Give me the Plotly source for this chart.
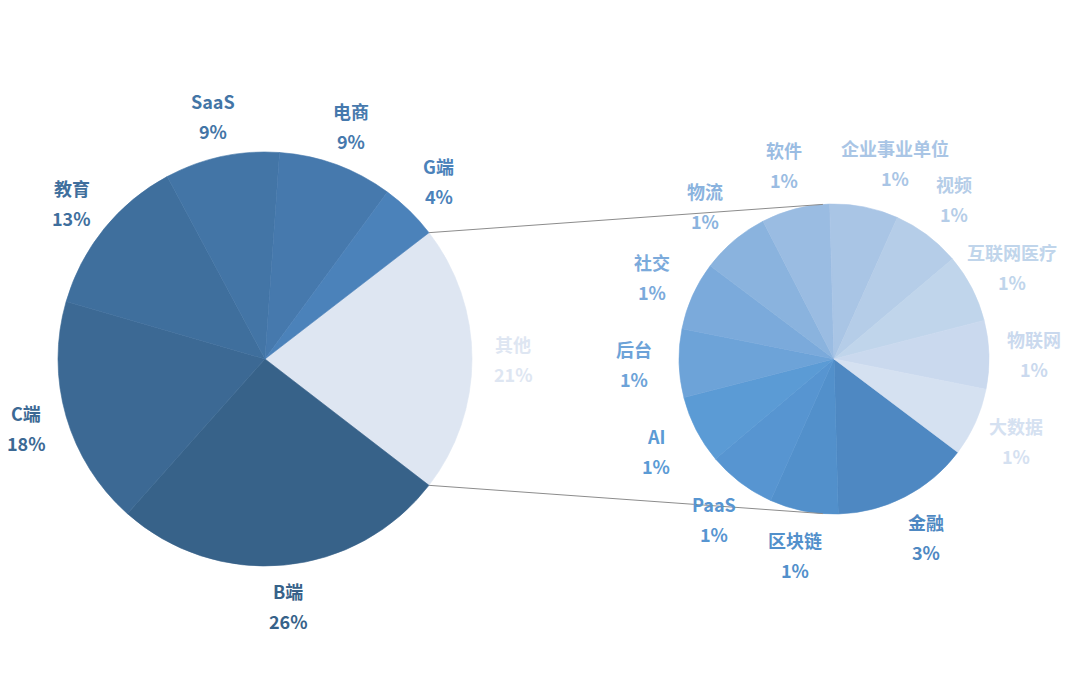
import math
import plotly.graph_objects as go

# main pie (clockwise, starting with the split-off slice)
main_labels = ['其他', 'B端', 'C端', '教育', 'SaaS', '电商', 'G端']
main_values = [28, 35, 24, 17, 12, 12, 6]
main_colors = ['#DEE6F2', '#376289', '#3C6994', '#3F6F9D', '#4375A6', '#4679AD', '#4B82BA']

# secondary pie = breakdown of 其他
sub_labels = ['金融', '区块链', 'PaaS', 'AI', '后台', '社交', '物流', '软件',
              '企业事业单位', '视频', '互联网医疗', '物联网', '大数据']
sub_values = [4, 2, 2, 2, 2, 2, 2, 2, 2, 2, 2, 2, 2]
sub_colors = ['#4E88C2', '#5290CB', '#5795D1', '#5B9BD5', '#6DA3D8', '#7BAADB', '#8AB3DE',
              '#9ABCE2', '#A9C5E5', '#B5CDE8', '#C0D5EB', '#CAD9EE', '#D5E1F1']

W, H = 1080, 700
total = sum(main_values)

# pie geometry in pixels (page has an 8px body margin)
c1, r1 = (257, 351), 207
c2, r2 = (826, 351), 155
rot1 = 90 - main_values[0] / sum(main_values) * 180
rot2 = 127


def dom(c, r):
    return dict(x=[(c[0] - r) / W, (c[0] + r) / W], y=[1 - (c[1] + r) / H, 1 - (c[1] - r) / H])


fig = go.Figure()
fig.add_trace(go.Pie(labels=main_labels, values=main_values, sort=False, direction='clockwise',
                     rotation=rot1, domain=dom(c1, r1), textinfo='none', hoverinfo='label+percent',
                     marker=dict(colors=main_colors, line=dict(width=0.6, color=main_colors)),
                     showlegend=False))
fig.add_trace(go.Pie(labels=sub_labels, values=sub_values, sort=False, direction='clockwise',
                     rotation=rot2, domain=dom(c2, r2), textinfo='none', hoverinfo='label',
                     marker=dict(colors=sub_colors, line=dict(width=0.6, color=sub_colors)),
                     showlegend=False))


def add_labels(labels, values, colors, c, r, rot, k):
    s = sum(values)
    cum = 0
    for lab, v, col in zip(labels, values, colors):
        a = math.radians(rot + (cum + v / 2) / s * 360)
        cum += v
        x = (c[0] + k * r * math.sin(a)) / W
        y = 1 - (c[1] - k * r * math.cos(a)) / H
        # wide label near the top gets nudged right, like Excel does
        xs = 22 if len(lab) > 5 and math.cos(a) > 0.9 else 0
        pct = f"{round(v / total * 100)}%"
        for txt, dy in [(lab, 15), (pct, -15)]:
            fig.add_annotation(x=x, y=y, xref='paper', yref='paper', text=f"<b>{txt}</b>",
                               showarrow=False, yshift=dy, xshift=xs, xanchor='center', yanchor='middle',
                               font=dict(family='Noto Sans CJK SC', size=18, color=col))


add_labels(main_labels, main_values, main_colors, c1, r1, rot1, 1.2)
add_labels(sub_labels, sub_values, sub_colors, c2, r2, rot2, 1.29)

# series lines: from the edges of 其他 to tangent points on the second pie
half = main_values[0] / total * math.pi
for sgn in (1, -1):
    px = c1[0] + r1 * math.cos(half)
    py = c1[1] - sgn * r1 * math.sin(half)
    dx, dy = px - c2[0], py - c2[1]
    d = math.hypot(dx, dy)
    base = math.atan2(dy, dx)
    ang = base + sgn * math.acos(r2 / d)
    tx = c2[0] + r2 * math.cos(ang)
    ty = c2[1] + r2 * math.sin(ang)
    fig.add_shape(type='line', xref='paper', yref='paper',
                  x0=px / W, y0=1 - py / H, x1=tx / W, y1=1 - ty / H,
                  line=dict(color='#8C8C8C', width=1))

fig.update_layout(width=W, height=H, margin=dict(l=0, r=0, t=0, b=0),
                  paper_bgcolor='white', plot_bgcolor='white')

fig.write_html("out.html")
